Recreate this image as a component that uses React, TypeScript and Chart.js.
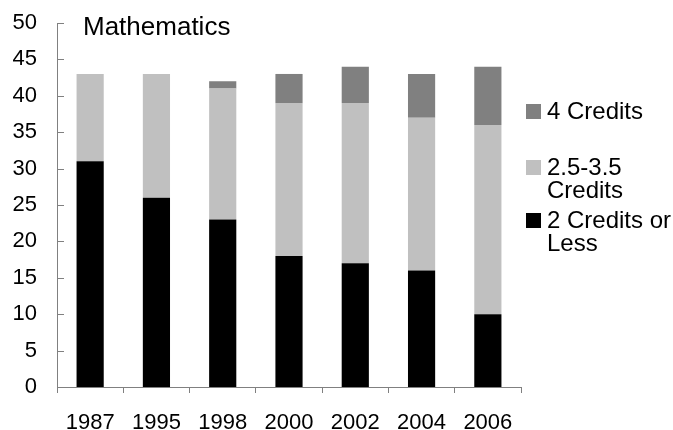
import React, { useEffect, useRef } from "react";
import { Chart, registerables } from "chart.js";

Chart.register(...registerables);

const categories = ["1987", "1995", "1998", "2000", "2002", "2004", "2006"];
const twoOrLess = [31, 26, 23, 18, 17, 16, 10];
const midCredits = [12, 17, 18, 21, 22, 21, 26];
const fourCredits = [0, 0, 1, 4, 5, 6, 8];
const seriesNames = ["2 Credits or Less", "2.5-3.5 Credits", "4 Credits"];
const legendLines = [["2 Credits or", "Less"], ["2.5-3.5", "Credits"], ["4 Credits"]];
const seriesColors = ["#000000", "#c0c0c0", "#808080"];
const yMin = 0;
const yMax = 50;
const yStep = 5;
const chartTitle = "Mathematics";

const FONT = "'Liberation Sans', Arial, sans-serif";
const AXIS_COLOR = "#808080";

const overlayPlugin = {
  id: "overlay",
  afterDraw(chart: any) {
    const ctx = chart.ctx;
    const area = chart.chartArea;
    const y = chart.scales.y;
    ctx.save();
    // inside tick marks on the y axis
    ctx.strokeStyle = AXIS_COLOR;
    ctx.lineWidth = 1;
    y.ticks.forEach((t: any) => {
      const py = Math.round(y.getPixelForValue(t.value)) + 0.5;
      ctx.beginPath();
      ctx.moveTo(area.left, py);
      ctx.lineTo(area.left + 7, py);
      ctx.stroke();
    });
    // title
    ctx.fillStyle = "#000";
    ctx.font = `26px ${FONT}`;
    ctx.textBaseline = "alphabetic";
    ctx.textAlign = "left";
    ctx.fillText(chartTitle, 83, 35);
    // legend (reverse order)
    const itemY = [111, 167, 220];
    const order = [2, 1, 0];
    ctx.font = `24px ${FONT}`;
    ctx.textBaseline = "middle";
    order.forEach((si, i) => {
      const cy = itemY[i];
      ctx.fillStyle = seriesColors[si];
      ctx.fillRect(526, cy - 7, 15, 15);
      ctx.fillStyle = "#000";
      legendLines[si].forEach((line, li) => {
        ctx.fillText(line, 547, cy + 1 + li * 23);
      });
    });
    ctx.restore();
  },
};

export default function App() {
  const ref = useRef<HTMLCanvasElement>(null);
  useEffect(() => {
    const values = [twoOrLess, midCredits, fourCredits];
    const chart = new Chart(ref.current!, {
      type: "bar",
      data: {
        labels: categories,
        datasets: values.map((v, i) => ({
          label: seriesNames[i],
          data: v,
          backgroundColor: seriesColors[i],
          borderWidth: 0,
          barPercentage: 0.41,
          categoryPercentage: 1,
        })),
      },
      options: {
        responsive: false,
        animation: false,
        layout: { padding: { top: 23, right: 152, left: 0, bottom: 0 } },
        plugins: { legend: { display: false }, tooltip: { enabled: false }, title: { display: false } },
        scales: {
          x: {
            stacked: true,
            grid: {
              display: true,
              drawOnChartArea: false,
              drawTicks: true,
              tickLength: 6,
              color: AXIS_COLOR,
              offset: true,
            },
            border: { display: true, color: AXIS_COLOR, width: 1 },
            ticks: { color: "#000", font: { family: FONT, size: 22 }, padding: 17, maxRotation: 0, autoSkip: false },
            afterFit: (s: any) => { s.height = 43; s.paddingLeft = 0; s.paddingRight = 0; },
          },
          y: {
            stacked: true,
            min: yMin,
            max: yMax,
            grid: { display: false, drawTicks: false },
            border: { display: true, color: AXIS_COLOR, width: 1 },
            ticks: { stepSize: yStep, color: "#000", font: { family: FONT, size: 22 }, padding: 20 },
            afterFit: (s: any) => { s.width = 57; s.paddingTop = 0; s.paddingBottom = 0; },
          },
        },
      },
      plugins: [overlayPlugin],
    });
    return () => chart.destroy();
  }, []);
  return (
    <div style={{ position: "fixed", left: 0, top: 0, width: 673, height: 430, background: "#fff" }}>
      <canvas ref={ref} width={673} height={430} style={{ display: "block" }} />
    </div>
  );
}
